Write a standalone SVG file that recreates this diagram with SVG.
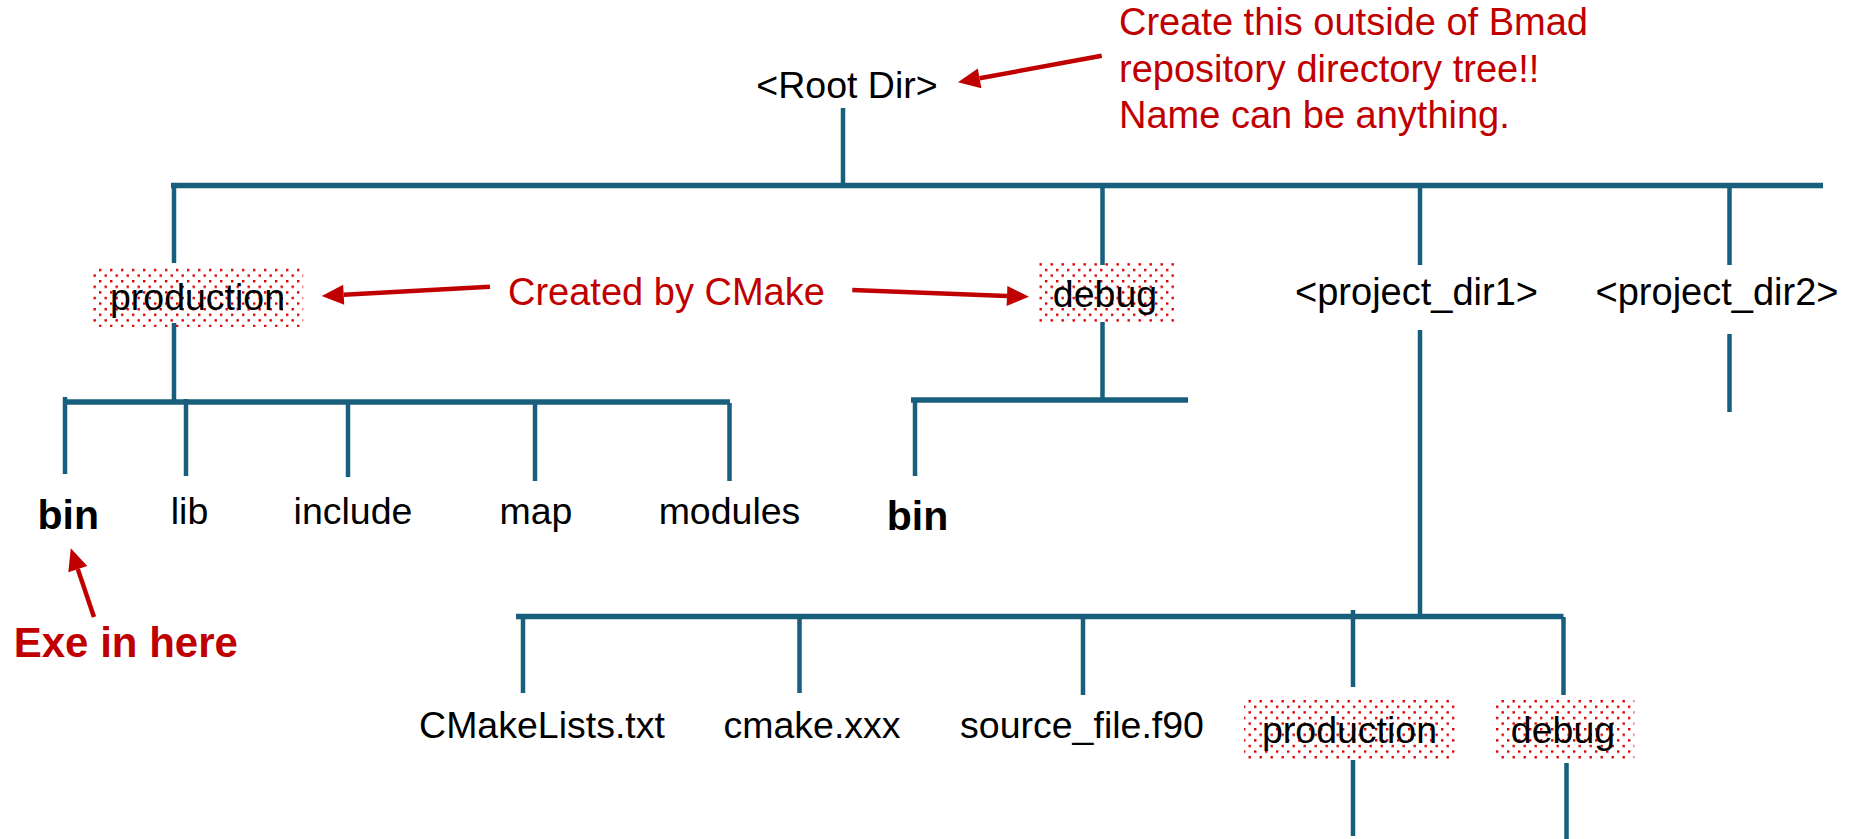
<svg xmlns="http://www.w3.org/2000/svg" width="1860" height="839" viewBox="0 0 1860 839">
  <style>
    .t { font-family: "Liberation Sans", Arial, sans-serif; font-size: 37.5px; fill: #000; text-anchor: middle; }
    .b { font-family: "Liberation Sans", Arial, sans-serif; font-size: 41px; font-weight: bold; fill: #000; text-anchor: middle; }
    .r { font-family: "Liberation Sans", Arial, sans-serif; font-size: 38px; fill: #c00000; }
    .rb { font-family: "Liberation Sans", Arial, sans-serif; font-size: 42px; font-weight: bold; fill: #c00000; text-anchor: middle; }
    .v { stroke: #185f7d; stroke-width: 4.5; fill: none; }
    .h { stroke: #185f7d; stroke-width: 5.5; fill: none; }
    .a { stroke: #c00000; stroke-width: 4.5; fill: none; marker-end: url(#ah); }
    .dots { fill: url(#dotpat); }
  </style>
  <defs>
    <pattern id="dotpat" patternUnits="userSpaceOnUse" width="11" height="11.2">
      <rect x="0" y="0" width="2.4" height="2.4" fill="#dd0000"/>
      <rect x="5.5" y="5.6" width="2.4" height="2.4" fill="#dd0000"/>
    </pattern>
    <marker id="ah" markerUnits="userSpaceOnUse" markerWidth="24" markerHeight="22" refX="0" refY="0" orient="auto" overflow="visible">
      <path d="M0,-10 L22,0 L0,10 z" fill="#c00000"/>
    </marker>
  </defs>
  <rect width="1860" height="839" fill="#ffffff"/>

  <g id="connectors">
    <line class="v" x1="843" y1="108" x2="843" y2="185"/>
    <line class="h" x1="171" y1="185.5" x2="1823" y2="185.5"/>
    <line class="v" x1="174" y1="185" x2="174" y2="263"/>
    <line class="v" x1="1102.5" y1="188" x2="1102.5" y2="265"/>
    <line class="v" x1="1420" y1="188" x2="1420" y2="265"/>
    <line class="v" x1="1729.5" y1="188" x2="1729.5" y2="265"/>
    <line class="v" x1="174" y1="323" x2="174" y2="401"/>
    <line class="h" x1="63" y1="402" x2="730" y2="402"/>
    <line class="v" x1="65" y1="397" x2="65" y2="474"/>
    <line class="v" x1="186" y1="399" x2="186" y2="476"/>
    <line class="v" x1="348" y1="402" x2="348" y2="477"/>
    <line class="v" x1="535" y1="402" x2="535" y2="481"/>
    <line class="v" x1="729.5" y1="403" x2="729.5" y2="481"/>
    <line class="v" x1="1102.5" y1="322" x2="1102.5" y2="399"/>
    <line class="h" x1="911" y1="400" x2="1188" y2="400"/>
    <line class="v" x1="915" y1="400" x2="915" y2="476"/>
    <line class="v" x1="1729.5" y1="334" x2="1729.5" y2="412"/>
    <line class="v" x1="1420" y1="330" x2="1420" y2="615"/>
    <line class="h" x1="516" y1="616.5" x2="1563.5" y2="616.5"/>
    <line class="v" x1="523" y1="617" x2="523" y2="693"/>
    <line class="v" x1="799.5" y1="617" x2="799.5" y2="693"/>
    <line class="v" x1="1083" y1="617" x2="1083" y2="695"/>
    <line class="v" x1="1353" y1="610" x2="1353" y2="687"/>
    <line class="v" x1="1563.5" y1="617" x2="1563.5" y2="695"/>
    <line class="v" x1="1353" y1="760" x2="1353" y2="836"/>
    <line class="v" x1="1566.5" y1="763" x2="1566.5" y2="839"/>
    <line class="a" x1="1101.7" y1="55.7" x2="979.6" y2="78.3"/>
    <line class="a" x1="490" y1="286.7" x2="343.7" y2="294.8"/>
    <line class="a" x1="852.3" y1="290" x2="1007" y2="295.9"/>
    <line class="a" x1="94" y1="617" x2="77.8" y2="569.1"/>
  </g>

  <g id="root"><text class="t" x="847" y="98">&lt;Root Dir&gt;</text></g>
  <g id="note-root">
    <text class="r" x="1119" y="35">Create this outside of Bmad</text>
    <text class="r" x="1119" y="81.7">repository directory tree!!</text>
    <text class="r" x="1119" y="128.3">Name can be anything.</text>
  </g>
  <g id="note-cmake"><text class="r" x="508" y="305">Created by CMake</text></g>

  <g id="production"><rect class="dots" x="92.7" y="266" width="210.5" height="61"/><text class="t" x="197.5" y="310">production</text></g>
  <g id="debug"><rect class="dots" x="1037" y="261.7" width="139.7" height="61.3"/><text class="t" x="1105" y="307">debug</text></g>
  <g id="project_dir1"><text class="t" x="1416.5" y="305" style="font-size:38px">&lt;project_dir1&gt;</text></g>
  <g id="project_dir2"><text class="t" x="1717" y="305" style="font-size:38px">&lt;project_dir2&gt;</text></g>

  <g id="prod-bin"><text class="b" x="68.3" y="529.3">bin</text></g>
  <g id="prod-lib"><text class="t" x="189.5" y="523.5">lib</text></g>
  <g id="prod-include"><text class="t" x="353" y="524">include</text></g>
  <g id="prod-map"><text class="t" x="536" y="524">map</text></g>
  <g id="prod-modules"><text class="t" x="729.5" y="524">modules</text></g>
  <g id="debug-bin"><text class="b" x="917.5" y="530">bin</text></g>
  <g id="note-exe"><text class="rb" x="125.8" y="656.7">Exe in here</text></g>

  <g id="cmakelists"><text class="t" x="542" y="737.5">CMakeLists.txt</text></g>
  <g id="cmake-xxx"><text class="t" x="812" y="737.5">cmake.xxx</text></g>
  <g id="source-file"><text class="t" x="1082" y="737.5">source_file.f90</text></g>
  <g id="pd1-production"><rect class="dots" x="1244" y="697.3" width="212.7" height="62"/><text class="t" x="1349.5" y="743">production</text></g>
  <g id="pd1-debug"><rect class="dots" x="1494.3" y="697.3" width="140" height="62.7"/><text class="t" x="1563" y="743">debug</text></g>
</svg>
